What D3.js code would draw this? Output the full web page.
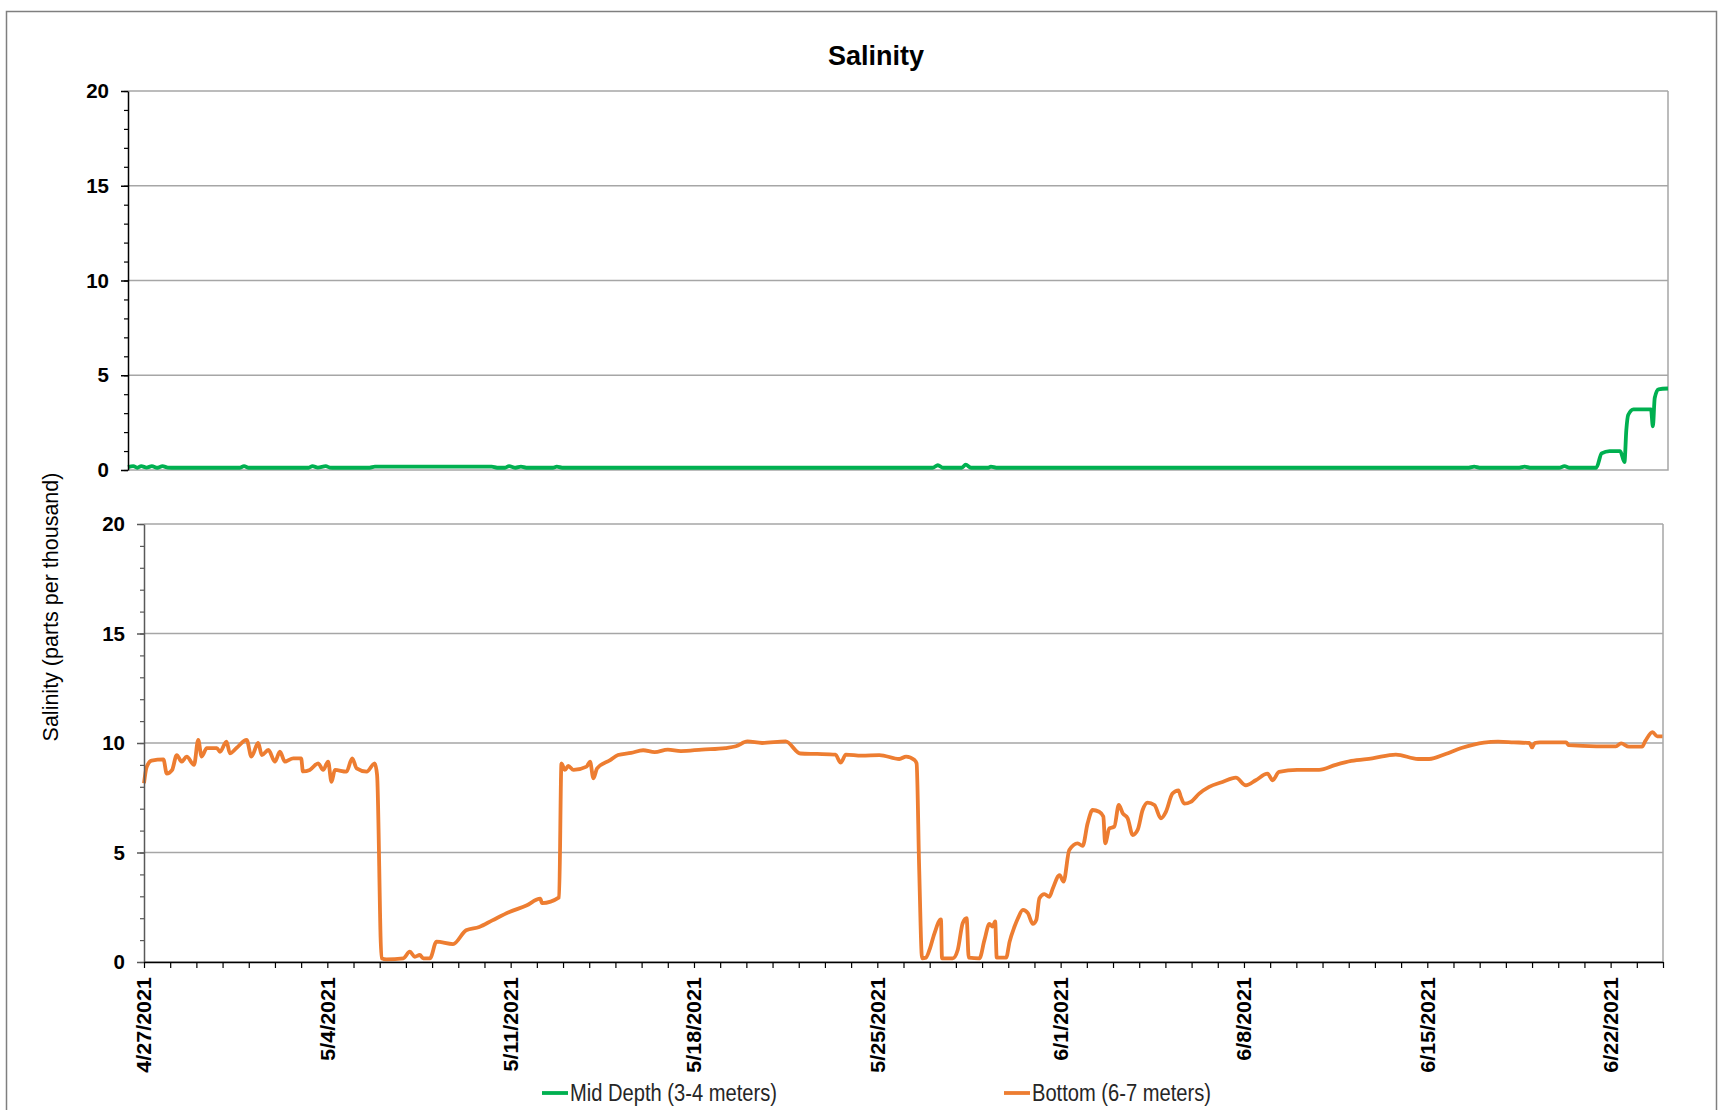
<!DOCTYPE html>
<html>
<head>
<meta charset="utf-8">
<script src="https://cdn.jsdelivr.net/npm/d3@7"></script>
<style>
  body { margin: 0; background: #fff; }
  svg { display: block; }
</style>
</head>
<body>
<script>
// start of the record, values below are day offsets from it
const startDate = new Date(2021, 3, 27);
const endDate = new Date(2021, 5, 24);

const xLabels = ['4/27/2021', '5/4/2021', '5/11/2021', '5/18/2021', '5/25/2021',
  '6/1/2021', '6/8/2021', '6/15/2021', '6/22/2021'];
const yTicks = [0, 5, 10, 15, 20];

const midDays = [0, 0.2, 0.35, 0.5, 0.7, 0.9, 1.1, 1.3, 1.5, 1.8, 4.2, 4.37, 4.55,
  6.8, 6.95, 7.15, 7.45, 7.6, 7.8, 9.1, 9.3, 13.7, 13.9, 14.2, 14.35, 14.6, 14.8, 15.0,
  16.0, 16.15, 16.35, 30.3, 30.5, 30.7, 31.4, 31.55, 31.75, 32.4, 32.5, 32.7,
  50.5, 50.7, 50.9, 52.4, 52.6, 52.8, 53.9, 54.1, 54.3, 55.3, 55.5, 55.8, 56.2,
  56.36, 56.43, 56.5, 56.7, 57.36, 57.43, 57.5, 57.64, 58];
const midValues = [0.15, 0.2, 0.12, 0.2, 0.13, 0.2, 0.12, 0.2, 0.13, 0.12, 0.12, 0.2, 0.12,
  0.12, 0.2, 0.13, 0.2, 0.13, 0.12, 0.12, 0.18, 0.18, 0.12, 0.12, 0.2, 0.12, 0.18, 0.12,
  0.12, 0.18, 0.12, 0.12, 0.25, 0.12, 0.12, 0.28, 0.12, 0.12, 0.18, 0.12,
  0.12, 0.18, 0.12, 0.12, 0.18, 0.12, 0.12, 0.2, 0.12, 0.12, 0.88, 1.0, 1.0,
  0.42, 2.1, 2.9, 3.2, 3.2, 2.3, 3.8, 4.26, 4.3];

const bottomDays = [0, 0.1, 0.29, 0.74, 0.87, 1.07, 1.25, 1.44, 1.63, 1.91, 2.07, 2.2,
  2.4, 2.78, 2.9, 3.15, 3.28, 3.53, 3.92, 4.1, 4.36, 4.5, 4.75, 5.0, 5.19, 5.38, 5.7,
  6.0, 6.07, 6.33, 6.65, 6.84, 7.03, 7.16, 7.29, 7.73, 7.95, 8.12, 8.5, 8.81, 8.9,
  9.07, 9.26, 9.9, 10.15, 10.34, 10.53, 10.66, 10.92, 11.17, 11.8, 12.3, 12.8, 13.3,
  13.95, 14.6, 15.13, 15.2, 15.85, 15.94, 16.07, 16.2, 16.4, 16.9, 17.03, 17.16, 17.3,
  17.8, 18.1, 18.6, 19.06, 19.5, 20.0, 20.5, 21.3, 22.2, 22.6, 23.04, 23.6, 24.5, 25.06,
  25.7, 26.4, 26.6, 26.8, 27.4, 28.08, 28.84,
  29.1, 29.42, 29.5, 29.6, 29.71, 29.86, 29.99, 30.18, 30.43, 30.47, 30.88, 31.07,
  31.26, 31.41, 31.49, 31.9, 32.09, 32.28, 32.4, 32.5, 32.56, 32.92, 33.05, 33.24,
  33.37, 33.56, 33.75, 33.94, 34.07, 34.19, 34.38, 34.57, 34.7, 34.96, 35.11, 35.33,
  35.65, 35.84, 36.03, 36.22, 36.47, 36.63, 36.7, 36.86, 37.05, 37.22, 37.37, 37.56,
  37.75, 37.94, 38.13, 38.32, 38.58, 38.83, 39.02, 39.27, 39.5, 39.59, 39.72, 39.97,
  40.29, 40.67, 41.18, 41.69, 42.07, 42.45, 42.9, 43.09, 43.34, 44.03, 44.87, 45.5, 46.1,
  46.9, 47.8, 48.65, 49.07, 49.7, 50.3, 51.16, 51.7, 52.3, 52.9, 53.0, 53.1, 53.3, 54.3,
  54.4, 55.46, 56.2, 56.4, 56.7, 57.2, 57.33, 57.6, 57.78, 57.98];
const bottomValues = [8.16, 8.9, 9.2, 9.25, 8.6, 8.76, 9.45, 9.15, 9.38, 9.0, 10.14, 9.38,
  9.77, 9.77, 9.6, 10.06, 9.53, 9.77, 10.14, 9.38, 10.0, 9.45, 9.68, 9.15, 9.6, 9.15, 9.3,
  9.3, 8.7, 8.77, 9.07, 8.77, 9.15, 8.23, 8.77, 8.69, 9.3, 8.84, 8.69, 9.07, 8.54,
  0.17, 0.12, 0.17, 0.47, 0.24, 0.32, 0.17, 0.17, 0.93, 0.82, 1.45, 1.6, 1.9,
  2.28, 2.58, 2.89, 2.69, 2.95, 9.07, 8.77, 8.95, 8.77, 8.92, 9.15, 8.39, 8.84,
  9.22, 9.45, 9.55, 9.67, 9.58, 9.7, 9.63, 9.7, 9.77, 9.85, 10.07, 10.0, 10.07, 9.52,
  9.5, 9.47, 9.1, 9.47, 9.42, 9.45, 9.27,
  9.38, 9.22, 9.07, 4.2, 0.17, 0.2, 0.55, 1.3, 1.95, 0.17, 0.17, 0.55,
  1.77, 2.0, 0.2, 0.17, 1.0, 1.74, 1.62, 1.85, 0.2, 0.2, 0.92, 1.62,
  2.0, 2.38, 2.23, 1.74, 1.92, 2.91, 3.1, 2.98, 3.36, 3.97, 3.67, 5.11,
  5.42, 5.3, 6.33, 6.94, 6.86, 6.64, 5.42, 6.1, 6.18, 7.17, 6.79, 6.56,
  5.8, 6.03, 6.94, 7.28, 7.17, 6.56, 6.86, 7.69, 7.84, 7.54, 7.23, 7.31,
  7.69, 8.0, 8.22, 8.42, 8.07, 8.3, 8.6, 8.3, 8.68, 8.77, 8.77, 9.0, 9.18,
  9.3, 9.47, 9.27, 9.27, 9.5, 9.77, 10.02, 10.06, 10.03, 10.0, 9.8, 10.0, 10.03, 10.03,
  9.9, 9.85, 9.85, 9.98, 9.83, 9.83, 10.1, 10.5, 10.3, 10.3];

const toDate = d => new Date(startDate.getTime() + d * 864e5);
const midData = midDays.map((d, i) => [toDate(d), midValues[i]]);
const bottomData = bottomDays.map((d, i) => [toDate(d), bottomValues[i]]);

const svg = d3.select('body').append('svg')
  .attr('width', 1725)
  .attr('height', 1110);

svg.append('rect')
  .attr('x', 6.5).attr('y', 11.5)
  .attr('width', 1710).attr('height', 1110)
  .style('fill', 'none')
  .style('stroke', '#7f7f7f')
  .style('stroke-width', 1.5);

svg.append('text')
  .attr('x', 876).attr('y', 65)
  .attr('text-anchor', 'middle')
  .style('font-family', '"Liberation Sans", Arial, sans-serif')
  .style('font-weight', 'bold')
  .style('font-size', '27px')
  .text('Salinity');

svg.append('text')
  .attr('transform', 'translate(58,607) rotate(-90)')
  .attr('text-anchor', 'middle')
  .style('font-family', '"Liberation Sans", Arial, sans-serif')
  .style('font-size', '21.5px')
  .text('Salinity (parts per thousand)');

const panels = [
  { left: 128, right: 1668, top: 91, bottom: 470, data: midData, color: '#00b050', axisColor: '#000', labelX: 109 },
  { left: 144, right: 1663, top: 524, bottom: 962, data: bottomData, color: '#ed7d31', axisColor: '#595959', labelX: 125 },
];

panels.forEach((p, idx) => {
  const x = d3.scaleTime().domain([startDate, endDate]).range([p.left, p.right]);
  const y = d3.scaleLinear().domain([0, 20]).range([p.bottom, p.top]);
  const g = svg.append('g');

  // grid lines
  g.selectAll('.grid')
    .data(yTicks.filter(t => t > 0))
    .enter().append('line')
    .attr('x1', p.left).attr('x2', p.right)
    .attr('y1', d => y(d)).attr('y2', d => y(d))
    .style('stroke', '#a6a6a6')
    .style('stroke-width', 1.5);

  // right and bottom border of plot area
  g.append('path')
    .attr('d', `M${p.right},${p.top}V${p.bottom}H${p.left}`)
    .style('fill', 'none')
    .style('stroke', '#a6a6a6')
    .style('stroke-width', 1.5);

  const line = d3.line()
    .x(d => x(d[0]))
    .y(d => y(d[1]))
    .curve(d3.curveMonotoneX);

  g.append('path')
    .attr('d', line(p.data))
    .style('fill', 'none')
    .style('stroke', p.color)
    .style('stroke-width', 3.8)
    .style('stroke-linejoin', 'round');

  // minor ticks
  const minor = g.append('g')
    .attr('transform', `translate(${p.left},0)`)
    .call(d3.axisLeft(y).tickValues(d3.range(0, 21)).tickSize(4).tickFormat(''));
  minor.select('.domain').remove();
  minor.selectAll('line').style('stroke', p.axisColor).style('stroke-width', 1.2);

  const major = g.append('g')
    .attr('transform', `translate(${p.left},0)`)
    .call(d3.axisLeft(y).tickValues(yTicks).tickSize(7).tickSizeOuter(0).tickFormat(d3.format('d')));
  major.select('.domain').style('stroke', p.axisColor).style('stroke-width', 1.5);
  major.selectAll('line').style('stroke', p.axisColor).style('stroke-width', 1.5);
  major.selectAll('text')
    .attr('x', p.labelX - p.left)
    .style('font-family', '"Liberation Sans", Arial, sans-serif')
    .style('font-weight', 'bold')
    .style('font-size', '20.5px')
    .style('fill', '#000');

  if (idx === 1) {
    const xa = g.append('g')
      .attr('transform', `translate(0,${p.bottom})`)
      .call(d3.axisBottom(x).ticks(d3.timeDay.every(1)).tickSize(6).tickSizeOuter(0).tickFormat(''));
    xa.select('.domain').style('stroke', '#000').style('stroke-width', 1.5);
    xa.selectAll('line').style('stroke', '#000').style('stroke-width', 1.2);

    const parse = d3.timeParse('%m/%d/%Y');
    g.selectAll('.xlab')
      .data(xLabels)
      .enter().append('text')
      .attr('transform', d => `translate(${x(parse(d))},977) rotate(-90) scale(1.05,1)`)
      .attr('text-anchor', 'end')
      .attr('dy', '0.36em')
      .style('font-family', '"Liberation Sans", Arial, sans-serif')
      .style('font-weight', 'bold')
      .style('font-size', '20.5px')
      .text(d => d);
  }
});

// legend
const legendItems = [
  { name: 'Mid Depth (3-4 meters)', color: '#00b050', x: 542 },
  { name: 'Bottom (6-7 meters)', color: '#ed7d31', x: 1004 },
];
const lg = svg.selectAll('.legend')
  .data(legendItems)
  .enter().append('g')
  .attr('transform', d => `translate(${d.x},1093)`);
lg.append('line')
  .attr('x1', 0).attr('x2', 26)
  .style('stroke', d => d.color)
  .style('stroke-width', 3.8);
lg.append('text')
  .attr('transform', 'translate(28,0) scale(0.875,1)')
  .attr('dy', '0.35em')
  .style('font-family', '"Liberation Sans", Arial, sans-serif')
  .style('font-size', '23px')
  .style('fill', '#262626')
  .text(d => d.name);
</script>
</body>
</html>
